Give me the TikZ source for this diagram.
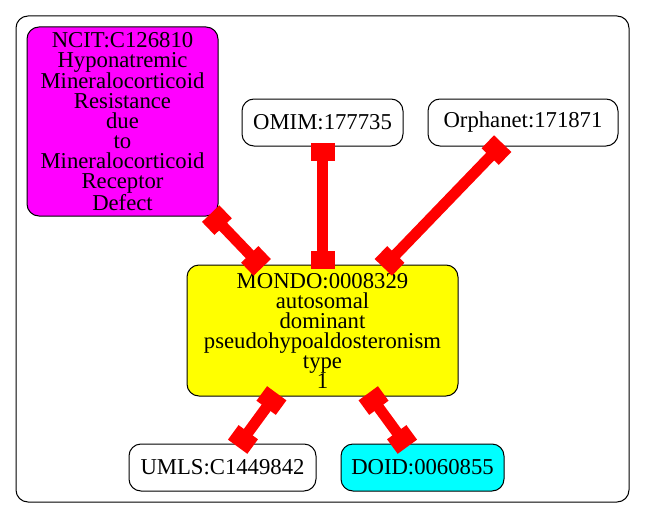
\documentclass[tikz,border=0pt]{standalone}
\usepackage{fontspec}
\setmainfont{Liberation Serif}
\usepackage{xcolor}
\usetikzlibrary{arrows.meta}
\definecolor{ncitfill}{HTML}{FF00FF}
\definecolor{mondofill}{HTML}{FFFF00}
\definecolor{doidfill}{HTML}{00FFFF}
\definecolor{xrefred}{HTML}{FF0000}

\begin{document}
\begin{tikzpicture}[x=1pt, y=-1pt,
  term/.style={rectangle, draw=black, rounded corners=12pt, inner sep=0pt, align=center, font=\fontsize{22.7}{20}\selectfont, line width=1pt},
  xref/.style={{Rectangle[length=18pt,width=24pt]}-{Rectangle[length=18pt,width=24pt]}, xrefred, line width=11pt, shorten <=-4pt, shorten >=-4pt}
]
\useasboundingbox (0,0) rectangle (645,519);
\node[draw=black, rounded corners=12pt, line width=1pt, minimum width=613pt, minimum height=486pt] (cluster) at (322.5,259) {};

\node[term, fill=ncitfill, minimum width=191pt, minimum height=189pt] (ncit) at (122.5,121.5) {NCIT:C126810\\Hyponatremic\\Mineralocorticoid\\Resistance\\due\\to\\Mineralocorticoid\\Receptor\\Defect};
\node[term, fill=white, minimum width=161pt, minimum height=47pt] (omim) at (322.5,122.5) {OMIM:177735};
\node[term, fill=white, minimum width=190pt, minimum height=47pt] (orphanet) at (523,122.5) {Orphanet:171871};
\node[term, fill=mondofill, minimum width=271pt, minimum height=131pt] (mondo) at (322.5,330.5) {MONDO:0008329\\autosomal\\dominant\\pseudohypoaldosteronism\\type\\1};
\node[term, fill=white, minimum width=187pt, minimum height=47pt] (umls) at (222.5,467.5) {UMLS:C1449842};
\node[term, fill=doidfill, minimum width=163pt, minimum height=47pt] (doid) at (422.5,467.5) {DOID:0060855};

\draw[xref] (ncit) -- (mondo);
\draw[xref] (omim) -- (mondo);
\draw[xref] (orphanet) -- (mondo);
\draw[xref] (mondo) -- (umls);
\draw[xref] (mondo) -- (doid);
\end{tikzpicture}
\end{document}
